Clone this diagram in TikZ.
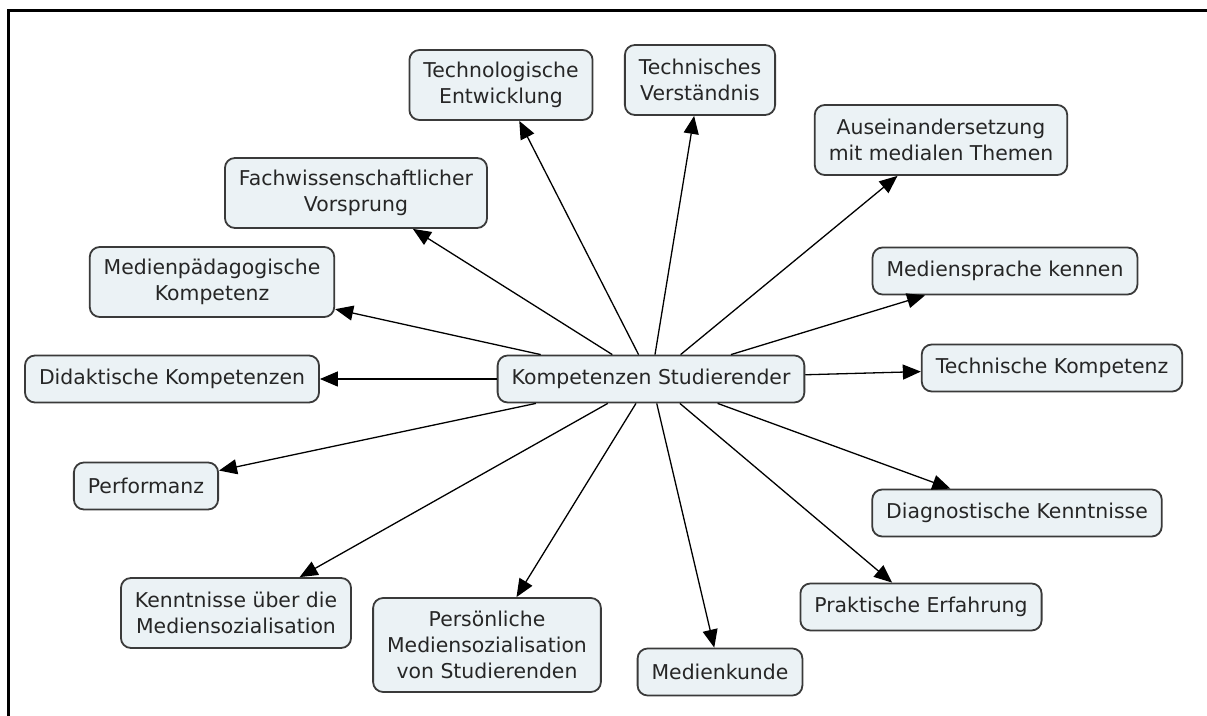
\documentclass[tikz,border=0pt]{standalone}
\usepackage{fontspec}
\setmainfont{DejaVu Sans}
\usetikzlibrary{arrows.meta}
\definecolor{boxfill}{HTML}{EBF2F5}
\definecolor{boxline}{HTML}{3A3A3A}

\begin{document}
\begin{tikzpicture}[x=0.5pt, y=-0.5pt,
    concept/.style={rectangle, rounded corners=5pt, draw=boxline, line width=0.9pt, fill=boxfill, align=center, inner xsep=7pt, inner ysep=3pt, minimum height=23.5pt, font=\fontsize{10.2}{13}\selectfont, text=black!85},
    twoline/.style={concept, minimum height=35pt},
    threeline/.style={concept, minimum height=47pt},
    link/.style={-{Triangle[length=9pt,width=7.5pt]}, line width=0.65pt, black}
]
    \useasboundingbox (0,0) rectangle (1207,716);

    % Frame (top and left only)
    \draw[line width=1.5pt] (1207,11) -- (8,11) -- (8,716);

    % Central concept
    \node[concept] (hub) at (651,379) {Kompetenzen Studierender};

    % Upper concepts
    \node[twoline] (techdev) at (501,85) {Technologische\\Entwicklung};
    \node[twoline] (techverst) at (700,80) {Technisches\\Verständnis};
    \node[twoline] (auseinander) at (941,140) {Auseinandersetzung\\mit medialen Themen};
    \node[twoline] (fachwiss) at (356,193) {Fachwissenschaftlicher\\Vorsprung};
    \node[twoline] (medpaed) at (212,282) {Medienpädagogische\\Kompetenz};
    \node[concept] (medsprache) at (1005,271) {Mediensprache kennen};

    % Side concepts
    \node[concept] (didaktik) at (172,379) {Didaktische Kompetenzen};
    \node[concept] (techkomp) at (1052,368) {Technische Kompetenz};

    % Lower concepts
    \node[concept] (performanz) at (146,486) {Performanz};
    \node[concept] (diagnostik) at (1017,513) {Diagnostische Kenntnisse};
    \node[twoline] (kenntnisse) at (236,613) {Kenntnisse über die\\Mediensozialisation};
    \node[threeline] (persoenlich) at (487,645) {Persönliche\\Mediensozialisation\\von Studierenden};
    \node[concept] (medkunde) at (720,672) {Medienkunde};
    \node[concept] (praxis) at (921,607) {Praktische Erfahrung};

    % Links from the central concept
    \foreach \target in {techdev, techverst, auseinander, fachwiss, medpaed, medsprache, didaktik, techkomp, performanz, diagnostik, kenntnisse, persoenlich, medkunde, praxis} {
        \draw[link] (hub) -- (\target);
    }
\end{tikzpicture}
\end{document}
